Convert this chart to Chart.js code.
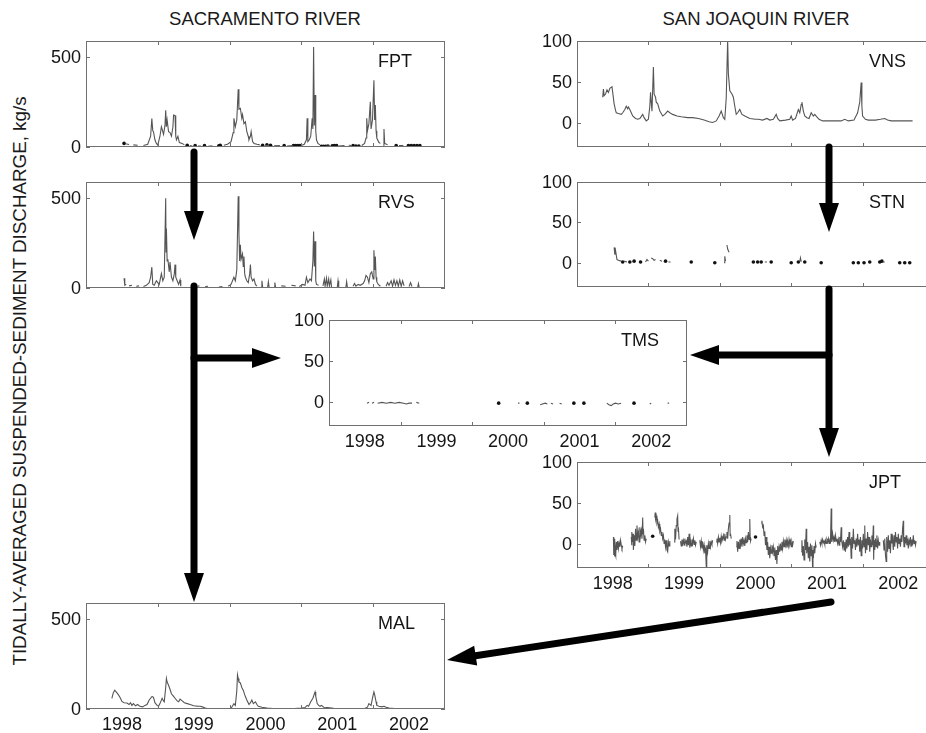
<!DOCTYPE html>
<html>
<head>
<meta charset="utf-8">
<script src="https://cdn.jsdelivr.net/npm/chart.js@4.4.1/dist/chart.umd.min.js"></script>
<style>
  body { margin: 0; background: #fff; width: 926px; height: 733px; overflow: hidden; position: relative;
         font-family: "Liberation Sans", Arial, sans-serif; color: #1a1a1a; }
  canvas.panel { position: absolute; }
  .txt { position: absolute; white-space: nowrap; transform: translate(-50%, -50%); font-size: 18.5px; }
  #ylab { transform: translate(-50%, -50%) rotate(-90deg); font-size: 18.8px; }
  #arrows { position: absolute; left: 0; top: 0; z-index: 10; }
</style>
</head>
<body>
<div class="txt" style="left:265px;top:19px">SACRAMENTO RIVER</div>
<div class="txt" style="left:756px;top:19px">SAN JOAQUIN RIVER</div>
<div class="txt" id="ylab" style="left:20px;top:381px">TIDALLY-AVERAGED SUSPENDED-SEDIMENT DISCHARGE, kg/s</div>
<svg id="arrows" width="926" height="733"></svg>
<script>
// ---- axis ticks / labels ----
const yearTicks = [1999, 2000, 2001, 2002];
const yearLabels = ['1998', '1999', '2000', '2001', '2002'];
const yearLabelPos = [1998.5, 1999.5, 2000.5, 2001.5, 2002.5];
const sacTicks = [0, 500];
const sjTicks = [0, 50, 100];

// ---- Sacramento River (kg/s), [decimal year, value], null = gap ----
const fptLine = [[1998.55,18],[1998.60,14],[1998.61,null],[1998.66,12],[1998.72,10],[1998.73,null],[1998.80,8],[1998.86,15],
  [1998.90,60],[1998.917,159],[1998.93,90],[1998.94,85],[1998.96,40],[1998.98,20],[1999.00,11],[1999.03,60],[1999.05,113],
  [1999.06,100],[1999.08,70],[1999.10,120],[1999.11,205],[1999.12,113],[1999.13,150],[1999.15,85],[1999.17,80],[1999.19,60],
  [1999.21,110],[1999.22,178],[1999.24,175],[1999.25,60],[1999.26,40],[1999.28,60],[1999.30,25],[1999.34,20],[1999.37,12],
  [1999.38,null],[1999.45,8],[1999.48,6],[1999.49,null],[1999.56,5],[1999.60,5],[1999.61,null],[1999.70,4],[1999.76,6],
  [1999.77,null],[1999.92,10],[1999.97,15],[2000.02,30],[2000.05,80],[2000.06,160],[2000.08,113],[2000.10,150],[2000.12,321],
  [2000.13,210],[2000.15,215],[2000.17,160],[2000.18,180],[2000.20,130],[2000.22,140],[2000.24,85],[2000.26,60],[2000.27,40],
  [2000.29,60],[2000.30,85],[2000.32,30],[2000.34,20],[2000.38,15],[2000.42,12],[2000.43,null],[2000.50,8],[2000.55,8],
  [2000.56,null],[2000.62,6],[2000.70,8],[2000.71,null],[2000.80,5],[2000.88,8],[2000.89,null],[2001.00,8],[2001.04,15],
  [2001.07,40],[2001.08,160],[2001.09,30],[2001.11,40],[2001.13,60],[2001.15,160],[2001.16,100],[2001.17,557],[2001.18,120],
  [2001.19,289],[2001.20,90],[2001.21,40],[2001.23,20],[2001.26,12],[2001.27,null],[2001.35,5],[2001.40,5],[2001.41,null],
  [2001.52,5],[2001.60,8],[2001.61,null],[2001.66,10],[2001.70,8],[2001.71,null],[2001.84,8],[2001.88,20],[2001.90,50],
  [2001.91,160],[2001.92,90],[2001.94,130],[2001.96,252],[2001.97,100],[2001.99,150],[2002.01,372],[2002.02,150],[2002.03,233],
  [2002.04,90],[2002.05,50],[2002.08,25],[2002.10,20],[2002.11,null],[2002.14,10],[2002.15,100],[2002.16,20],[2002.20,12],
  [2002.21,null],[2002.36,8],[2002.42,8],[2002.43,null]];
const fptDots = [[1998.53,20],[1999.41,10],[1999.52,8],[1999.65,8],[1999.85,6],[1999.87,10],[2000.46,10],[2000.52,12],
  [2000.57,10],[2000.76,8],[2000.89,8],[2000.92,8],[2000.95,8],[2000.98,8],[2001.28,4],[2001.31,4],[2001.34,4],[2001.37,5],
  [2001.43,6],[2001.46,8],[2001.49,8],[2001.72,8],[2001.76,5],[2001.80,5],[2002.32,8],[2002.49,8],[2002.53,8],[2002.57,8],
  [2002.61,8],[2002.65,8]];

const rvsLine = [[1998.53,54],[1998.54,15],[1998.56,20],[1998.57,null],[1998.60,12],[1998.64,15],[1998.65,null],[1998.70,10],
  [1998.74,12],[1998.75,null],[1998.80,8],[1998.84,15],[1998.88,30],[1998.90,60],[1998.917,116],[1998.93,20],[1998.95,15],
  [1998.98,40],[1999.02,20],[1999.05,80],[1999.07,40],[1999.09,60],[1999.11,500],[1999.115,200],[1999.12,331],[1999.13,150],
  [1999.14,160],[1999.16,90],[1999.17,145],[1999.19,60],[1999.21,40],[1999.23,80],[1999.24,130],[1999.25,60],[1999.27,40],
  [1999.29,20],[1999.31,45],[1999.32,10],[1999.33,null],[1999.55,10],[1999.58,12],[1999.59,null],[1999.66,8],[1999.70,10],
  [1999.71,null],[1999.85,5],[1999.90,8],[1999.91,null],[1999.98,10],[2000.02,20],[2000.06,60],[2000.08,40],[2000.10,100],
  [2000.12,510],[2000.13,300],[2000.14,150],[2000.15,240],[2000.16,160],[2000.18,190],[2000.19,120],[2000.20,175],[2000.21,80],
  [2000.22,60],[2000.24,40],[2000.26,30],[2000.28,80],[2000.29,130],[2000.30,60],[2000.32,40],[2000.34,50],[2000.36,20],
  [2000.38,10],[2000.39,null],[2000.44,5],[2000.45,40],[2000.46,5],[2000.47,null],[2000.53,5],[2000.54,35],[2000.55,5],
  [2000.56,null],[2000.62,5],[2000.63,30],[2000.64,5],[2000.65,null],[2000.72,12],[2000.78,10],[2000.79,null],[2000.86,15],
  [2000.92,12],[2000.93,null],[2000.97,8],[2001.02,20],[2001.05,15],[2001.07,60],[2001.09,30],[2001.12,50],[2001.14,40],
  [2001.16,150],[2001.17,315],[2001.18,120],[2001.19,260],[2001.20,40],[2001.21,20],[2001.24,15],[2001.25,null],[2001.30,12],
  [2001.32,50],[2001.33,10],[2001.35,55],[2001.36,10],[2001.38,50],[2001.39,10],[2001.41,45],[2001.42,5],[2001.43,null],
  [2001.50,5],[2001.51,40],[2001.52,5],[2001.53,null],[2001.62,5],[2001.63,35],[2001.64,5],[2001.65,null],[2001.72,10],
  [2001.74,25],[2001.76,10],[2001.79,20],[2001.82,15],[2001.86,25],[2001.88,40],[2001.90,70],[2001.92,60],[2001.94,30],
  [2001.96,80],[2001.98,90],[2002.00,50],[2002.01,210],[2002.02,100],[2002.03,175],[2002.04,60],[2002.05,35],[2002.07,20],
  [2002.10,10],[2002.11,null],[2002.18,10],[2002.20,30],[2002.22,15],[2002.25,40],[2002.27,10],[2002.29,45],[2002.31,15],
  [2002.33,40],[2002.35,10],[2002.37,45],[2002.39,10],[2002.41,40],[2002.43,12],[2002.44,null],[2002.50,8],[2002.52,30],
  [2002.54,8],[2002.55,null],[2002.62,5],[2002.63,25],[2002.64,5]];

const malLine = [[1998.36,59],[1998.38,90],[1998.40,105],[1998.42,95],[1998.45,80],[1998.48,60],[1998.50,42],[1998.53,35],
  [1998.57,33],[1998.60,25],[1998.62,35],[1998.64,20],[1998.66,30],[1998.69,18],[1998.72,25],[1998.75,15],[1998.79,12],
  [1998.82,20],[1998.85,25],[1998.88,50],[1998.92,70],[1998.94,65],[1998.96,35],[1998.99,20],[1999.01,15],[1999.03,30],
  [1999.06,60],[1999.08,45],[1999.09,40],[1999.11,120],[1999.12,170],[1999.13,150],[1999.15,132],[1999.17,110],[1999.19,85],
  [1999.22,70],[1999.24,60],[1999.27,45],[1999.29,40],[1999.31,55],[1999.34,45],[1999.37,35],[1999.41,30],[1999.45,25],
  [1999.50,18],[1999.55,16],[1999.59,15],[1999.62,12],[1999.66,5],[1999.69,3],[1999.80,3],[1999.90,3],[2000.01,3],[2000.03,10],
  [2000.06,30],[2000.08,20],[2000.10,100],[2000.11,190],[2000.12,170],[2000.13,150],[2000.15,145],[2000.17,120],[2000.19,105],
  [2000.21,80],[2000.22,70],[2000.24,50],[2000.27,25],[2000.29,35],[2000.31,50],[2000.33,30],[2000.36,40],[2000.38,25],
  [2000.40,15],[2000.45,10],[2000.52,5],[2000.60,3],[2000.75,2],[2000.90,2],[2001.00,5],[2001.05,8],[2001.08,20],[2001.10,15],
  [2001.13,40],[2001.16,60],[2001.19,95],[2001.20,70],[2001.22,30],[2001.24,20],[2001.26,15],[2001.28,20],[2001.31,10],
  [2001.36,8],[2001.45,4],[2001.60,3],[2001.75,2],[2001.88,3],[2001.92,10],[2001.94,30],[2001.97,20],[2001.99,60],[2002.01,95],
  [2002.02,80],[2002.04,40],[2002.05,20],[2002.08,15],[2002.12,12],[2002.15,15],[2002.18,10],[2002.22,5],[2002.30,3],
  [2002.45,2],[2002.60,2],[2002.73,2]];

// ---- San Joaquin River (kg/s) ----
const vnsLine = [[1998.36,31],[1998.37,41],[1998.38,33],[1998.40,35],[1998.42,40],[1998.44,37],[1998.46,42],[1998.49,44],
  [1998.51,30],[1998.52,23],[1998.54,15],[1998.55,12],[1998.58,11],[1998.62,10],[1998.64,12],[1998.67,16],[1998.69,20],
  [1998.71,17],[1998.72,19],[1998.74,16],[1998.76,12],[1998.78,8],[1998.82,5],[1998.85,4],[1998.88,5],[1998.92,10],[1998.94,6],
  [1998.97,2],[1999.00,4],[1999.02,20],[1999.03,37],[1999.04,25],[1999.05,14],[1999.06,40],[1999.07,68],[1999.08,35],
  [1999.10,31],[1999.11,25],[1999.13,23],[1999.16,14],[1999.20,8],[1999.23,10],[1999.27,14],[1999.30,12],[1999.34,10],
  [1999.40,8],[1999.46,7],[1999.55,6],[1999.62,6],[1999.70,5],[1999.78,3],[1999.85,1],[1999.90,0],[1999.95,2],[1999.99,8],
  [2000.02,14],[2000.05,6],[2000.07,4],[2000.09,30],[2000.11,101],[2000.12,60],[2000.14,39],[2000.17,35],[2000.19,31],
  [2000.21,20],[2000.23,10],[2000.25,12],[2000.28,16],[2000.31,10],[2000.35,8],[2000.42,5],[2000.50,4],[2000.54,4],[2000.60,3],
  [2000.66,5],[2000.70,3],[2000.75,4],[2000.79,10],[2000.81,5],[2000.84,2],[2000.92,3],[2000.98,4],[2001.00,8],[2001.02,3],
  [2001.06,5],[2001.10,16],[2001.12,12],[2001.14,22],[2001.15,25],[2001.17,14],[2001.19,8],[2001.22,6],[2001.25,5],[2001.28,12],
  [2001.31,8],[2001.33,10],[2001.35,8],[2001.39,4],[2001.44,2],[2001.50,2],[2001.60,2],[2001.70,2],[2001.75,4],[2001.80,2],
  [2001.88,3],[2001.93,12],[2001.96,25],[2001.98,49],[2001.99,20],[2002.00,8],[2002.04,4],[2002.08,3],[2002.12,3],[2002.18,3],
  [2002.25,4],[2002.31,5],[2002.35,3],[2002.40,2],[2002.48,2],[2002.55,2],[2002.62,2],[2002.70,2]];

const stnLine = [[1998.52,19],[1998.53,10],[1998.54,15],[1998.56,4],[1998.58,3],[1998.62,2],[1998.63,null],[1998.66,2],
  [1998.70,1],[1998.71,null],[1998.76,1],[1998.78,null],[1998.82,3],[1998.83,null],[1998.96,1],[1998.98,4],[1999.00,2],
  [1999.01,null],[1999.04,6],[1999.06,5],[1999.08,3],[1999.10,4],[1999.11,null],[1999.16,3],[1999.19,2],[1999.20,null],
  [1999.28,1],[1999.31,1],[1999.32,null],[1999.45,1],[1999.47,null],[2000.06,0],[2000.07,8],[2000.08,2],[2000.09,null],
  [2000.10,22],[2000.11,17],[2000.13,13],[2000.14,null],[2000.25,1],[2000.27,null],[2000.63,1],[2000.66,1],[2000.67,null],
  [2000.78,1],[2000.80,null],[2001.12,2],[2001.13,6],[2001.14,1],[2001.15,null],[2002.28,1],[2002.31,1]];
const stnDots = [[1998.64,1],[1998.74,1],[1998.80,2],[1998.89,1],[1999.24,2],[1999.60,1],[1999.93,0],[2000.47,1],[2000.53,1],
  [2000.58,1],[2000.72,1],[2001.00,0],[2001.10,1],[2001.19,1],[2001.42,0],[2001.87,0],[2001.94,0],[2002.02,0],[2002.10,1],
  [2002.24,1],[2002.27,2],[2002.52,0],[2002.59,0],[2002.66,0]];

const tmsLine = [[1998.53,-2],[1998.56,-1],[1998.57,null],[1998.60,-2],[1998.63,-1],[1998.64,null],[1998.68,-2],[1998.74,-1],
  [1998.80,-2],[1998.86,-1],[1998.92,-2],[1998.98,-1],[1999.04,-2],[1999.08,-3],[1999.12,-2],[1999.16,-2],[1999.17,null],
  [1999.22,-1],[1999.26,-2],[1999.27,null],[1999.36,-2],[1999.37,null],[1999.46,-3],[1999.47,null],[2000.46,-3],[2000.47,null],
  [2000.55,-2],[2000.56,null],[2000.64,-2],[2000.66,-2],[2000.67,null],[2000.84,-2],[2000.87,null],[2000.95,-4],[2000.98,-3],
  [2001.02,-2],[2001.05,-3],[2001.06,null],[2001.10,-2],[2001.13,-3],[2001.14,null],[2001.22,-2],[2001.25,-3],[2001.26,null],
  [2001.48,-2],[2001.49,null],[2001.60,-2],[2001.62,null],[2001.68,-3],[2001.69,null],[2001.88,-2],[2001.91,-4],[2001.94,-5],
  [2001.97,-3],[2002.00,-2],[2002.04,-3],[2002.08,-2],[2002.09,null],[2002.15,-2],[2002.17,null],[2002.38,-2],[2002.40,null],
  [2002.48,-3],[2002.50,-2],[2002.51,null],[2002.58,-2],[2002.60,null],[2002.73,-2],[2002.75,-2]];
const tmsDots = [[2000.37,-2],[2000.77,-2],[2001.42,-2],[2001.56,-2],[2002.26,-2]];

const jptLine = [[1998.51,8],[1998.515,-14],[1998.52,4],[1998.525,-16],[1998.53,6],[1998.535,-12],[1998.54,-2],[1998.545,-15],
  [1998.55,2],[1998.56,-8],[1998.57,3],[1998.58,-6],[1998.59,1],[1998.60,-4],[1998.61,4],[1998.62,-2],[1998.63,-6],[1998.64,-3],
  [1998.65,null],[1998.76,8],[1998.765,-2],[1998.77,14],[1998.78,2],[1998.785,12],[1998.79,-8],[1998.80,10],[1998.81,-3],
  [1998.82,18],[1998.83,4],[1998.84,22],[1998.85,8],[1998.86,14],[1998.87,2],[1998.88,20],[1998.89,10],[1998.90,16],[1998.91,6],
  [1998.92,32],[1998.925,12],[1998.93,18],[1998.94,4],[1998.95,10],[1998.96,2],[1998.97,6],[1998.98,null],[1999.09,32],
  [1999.095,38],[1999.10,30],[1999.11,34],[1999.12,25],[1999.13,28],[1999.14,20],[1999.15,24],[1999.16,15],[1999.17,18],
  [1999.18,10],[1999.19,14],[1999.20,6],[1999.21,10],[1999.22,0],[1999.23,5],[1999.24,-4],[1999.25,4],[1999.26,-8],[1999.27,-10],
  [1999.28,2],[1999.29,-3],[1999.30,3],[1999.31,null],[1999.36,2],[1999.37,18],[1999.38,5],[1999.39,22],[1999.40,30],
  [1999.41,34],[1999.415,15],[1999.42,20],[1999.43,5],[1999.44,null],[1999.45,3],[1999.46,-3],[1999.47,5],[1999.48,0],
  [1999.49,4],[1999.50,-2],[1999.51,6],[1999.52,1],[1999.53,3],[1999.54,-4],[1999.55,8],[1999.56,-2],[1999.57,12],[1999.58,-5],
  [1999.59,3],[1999.60,-3],[1999.61,5],[1999.62,0],[1999.63,6],[1999.64,-1],[1999.65,4],[1999.66,-2],[1999.67,2],[1999.68,null],
  [1999.72,4],[1999.73,-4],[1999.74,3],[1999.75,-6],[1999.76,2],[1999.77,-8],[1999.78,-2],[1999.79,-12],[1999.80,-5],
  [1999.81,-28],[1999.815,-6],[1999.82,-2],[1999.83,-10],[1999.84,0],[1999.85,-6],[1999.86,3],[1999.87,-4],[1999.88,2],
  [1999.89,-1],[1999.90,4],[1999.91,null],[1999.95,2],[1999.96,6],[1999.97,0],[1999.98,8],[1999.99,2],[2000.00,7],[2000.01,1],
  [2000.02,9],[2000.03,3],[2000.04,6],[2000.05,10],[2000.06,4],[2000.07,12],[2000.08,5],[2000.09,8],[2000.10,14],[2000.11,6],
  [2000.12,18],[2000.13,25],[2000.14,35],[2000.145,10],[2000.15,12],[2000.16,6],[2000.17,null],[2000.23,-4],[2000.24,3],
  [2000.25,-10],[2000.26,2],[2000.27,-6],[2000.28,5],[2000.29,-2],[2000.30,6],[2000.31,-4],[2000.32,8],[2000.33,0],[2000.34,4],
  [2000.35,-3],[2000.36,6],[2000.37,1],[2000.38,10],[2000.39,2],[2000.40,14],[2000.41,5],[2000.42,30],[2000.425,8],[2000.43,3],
  [2000.44,6],[2000.45,null],[2000.585,24],[2000.59,28],[2000.60,20],[2000.61,22],[2000.62,10],[2000.63,15],[2000.64,-2],
  [2000.65,8],[2000.66,-8],[2000.67,2],[2000.68,-14],[2000.69,-4],[2000.70,-18],[2000.71,-6],[2000.72,-12],[2000.73,-2],
  [2000.74,-10],[2000.75,-4],[2000.76,-15],[2000.77,-5],[2000.78,-20],[2000.79,-8],[2000.80,-25],[2000.805,-10],[2000.81,-3],
  [2000.82,-14],[2000.83,-4],[2000.84,-10],[2000.85,0],[2000.86,-8],[2000.87,2],[2000.88,-6],[2000.89,3],[2000.90,-4],
  [2000.91,5],[2000.92,-2],[2000.93,4],[2000.94,-5],[2000.95,3],[2000.96,-3],[2000.97,5],[2000.98,-1],[2000.99,3],[2001.00,-4],
  [2001.01,2],[2001.02,-2],[2001.03,3],[2001.04,null],[2001.14,-10],[2001.15,4],[2001.16,-15],[2001.17,-3],[2001.18,-20],
  [2001.19,5],[2001.20,-8],[2001.21,18],[2001.215,-5],[2001.22,-12],[2001.23,2],[2001.24,-18],[2001.25,-4],[2001.26,-22],
  [2001.27,0],[2001.28,-15],[2001.29,-2],[2001.30,-30],[2001.305,-8],[2001.31,-18],[2001.32,-3],[2001.33,-12],[2001.34,0],
  [2001.35,-5],[2001.36,null],[2001.40,2],[2001.41,-2],[2001.42,4],[2001.43,0],[2001.44,5],[2001.45,1],[2001.46,3],[2001.47,-1],
  [2001.48,4],[2001.49,0],[2001.50,5],[2001.51,2],[2001.52,6],[2001.53,0],[2001.54,4],[2001.55,2],[2001.56,43],[2001.565,8],
  [2001.57,2],[2001.58,12],[2001.59,4],[2001.60,8],[2001.61,2],[2001.62,10],[2001.63,3],[2001.64,6],[2001.65,0],[2001.66,5],
  [2001.67,-2],[2001.68,8],[2001.69,2],[2001.70,20],[2001.705,5],[2001.71,3],[2001.72,-4],[2001.73,4],[2001.74,-8],[2001.75,2],
  [2001.76,-10],[2001.77,5],[2001.78,-6],[2001.79,8],[2001.80,-4],[2001.81,14],[2001.82,-2],[2001.83,6],[2001.84,-18],
  [2001.845,-4],[2001.85,8],[2001.86,-6],[2001.87,18],[2001.88,0],[2001.89,4],[2001.90,-8],[2001.91,6],[2001.92,-4],[2001.93,12],
  [2001.94,-2],[2001.95,5],[2001.96,-10],[2001.97,8],[2001.98,-15],[2001.99,4],[2002.00,-6],[2002.01,12],[2002.02,-4],
  [2002.03,22],[2002.035,2],[2002.04,-12],[2002.05,6],[2002.06,-8],[2002.07,14],[2002.08,-2],[2002.09,8],[2002.10,-10],
  [2002.11,5],[2002.12,-4],[2002.13,10],[2002.14,-2],[2002.15,22],[2002.155,-20],[2002.16,4],[2002.17,-8],[2002.18,6],
  [2002.19,-4],[2002.20,10],[2002.21,-6],[2002.22,4],[2002.23,-2],[2002.24,2],[2002.25,null],[2002.29,4],[2002.30,-8],
  [2002.31,6],[2002.32,-14],[2002.33,-22],[2002.335,-4],[2002.34,8],[2002.35,-10],[2002.36,10],[2002.37,-6],[2002.38,4],
  [2002.39,-12],[2002.40,12],[2002.41,0],[2002.42,6],[2002.43,-8],[2002.44,10],[2002.45,-4],[2002.46,14],[2002.47,2],
  [2002.48,8],[2002.49,-6],[2002.50,12],[2002.51,0],[2002.52,6],[2002.53,-4],[2002.54,10],[2002.55,2],[2002.56,18],[2002.57,28],
  [2002.575,4],[2002.58,-4],[2002.59,8],[2002.60,0],[2002.61,10],[2002.62,-2],[2002.63,6],[2002.64,-6],[2002.65,4],[2002.66,0],
  [2002.67,8],[2002.68,-3],[2002.69,5],[2002.70,-2],[2002.71,10],[2002.72,0],[2002.73,4],[2002.74,-2],[2002.75,3]];
const jptDots = [[1999.06,9],[2000.50,8]];

// draws the matlab style box, inward ticks, tick labels and station name
const matlabAxes = {
  id: 'matlabAxes',
  afterDatasetsDraw(chart, args, opts) {
    const { ctx, chartArea: a, scales: { x, y } } = chart;
    const seg = (x1, y1, x2, y2) => { ctx.beginPath(); ctx.moveTo(x1, y1); ctx.lineTo(x2, y2); ctx.stroke(); };
    ctx.save();
    ctx.strokeStyle = '#707070';
    ctx.lineWidth = 1;
    ctx.strokeRect(a.left + 0.5, a.top + 0.5, a.width - 1, a.height - 1);
    yearTicks.forEach(t => {
      const px = Math.round(x.getPixelForValue(t)) + 0.5;
      seg(px, a.top, px, a.top + 4);
      seg(px, a.bottom, px, a.bottom - 4);
    });
    opts.yTicks.forEach(v => {
      const py = Math.round(y.getPixelForValue(v)) + 0.5;
      seg(a.left, py, a.left + 4, py);
      seg(a.right, py, a.right - 4, py);
    });
    ctx.fillStyle = '#151515';
    ctx.font = '18px "Liberation Sans", Arial, sans-serif';
    ctx.textAlign = 'right';
    ctx.textBaseline = 'middle';
    opts.yTicks.forEach(v => ctx.fillText(String(v), a.left - 5, y.getPixelForValue(v) + 1));
    if (opts.years) {
      ctx.textAlign = 'center';
      yearLabels.forEach((lab, i) => ctx.fillText(lab, x.getPixelForValue(yearLabelPos[i]), a.bottom + 16));
    }
    ctx.textAlign = 'left';
    ctx.fillText(opts.name, a.left + 292, a.top + 21);
    ctx.restore();
  }
};

const pad = { left: 55, right: 8, top: 12, bottom: 30 };
const toXY = pts => pts.map(([x, y]) => ({ x, y }));

function makePanel(name, box, yMin, yMax, yTicks, line, dots, years) {
  const c = document.createElement('canvas');
  c.className = 'panel';
  c.width = box.w + pad.left + pad.right;
  c.height = box.h + pad.top + pad.bottom;
  c.style.left = (box.x - pad.left) + 'px';
  c.style.top = (box.y - pad.top) + 'px';
  document.body.insertBefore(c, document.getElementById('arrows'));
  const datasets = [{
    data: toXY(line), borderColor: '#555', borderWidth: 1.1, pointRadius: 0, spanGaps: false, tension: 0
  }];
  if (dots) datasets.push({
    data: toXY(dots), showLine: false, pointRadius: 1.8, pointBackgroundColor: '#111', pointBorderWidth: 0
  });
  new Chart(c, {
    type: 'line',
    data: { datasets },
    options: {
      responsive: false,
      animation: false,
      devicePixelRatio: 1,
      layout: { padding: pad },
      scales: {
        x: { type: 'linear', min: 1998, max: 2003, display: false },
        y: { min: yMin, max: yMax, display: false }
      },
      plugins: {
        legend: { display: false },
        tooltip: { enabled: false },
        matlabAxes: { name, yTicks, years }
      }
    },
    plugins: [matlabAxes]
  });
}

makePanel('FPT', { x: 86, y: 41, w: 359, h: 106 }, 0, 590, sacTicks, fptLine, fptDots, false);
makePanel('RVS', { x: 86, y: 182, w: 359, h: 106 }, 0, 590, sacTicks, rvsLine, null, false);
makePanel('MAL', { x: 86, y: 603, w: 359, h: 106 }, 0, 590, sacTicks, malLine, null, true);
makePanel('VNS', { x: 577, y: 41, w: 357, h: 106 }, -30, 100, sjTicks, vnsLine, null, false);
makePanel('STN', { x: 577, y: 182, w: 357, h: 105 }, -30, 100, sjTicks, stnLine, stnDots, false);
makePanel('TMS', { x: 329, y: 320, w: 358, h: 106 }, -30, 100, sjTicks, tmsLine, tmsDots, true);
makePanel('JPT', { x: 577, y: 462, w: 357, h: 106 }, -30, 100, sjTicks, jptLine, jptDots, true);

// flow arrows between stations
const svg = document.getElementById('arrows');
const NS = 'http://www.w3.org/2000/svg';
function arrow(x1, y1, x2, y2) {
  const dx = x2 - x1, dy = y2 - y1, len = Math.hypot(dx, dy);
  const ux = dx / len, uy = dy / len, hl = 29, hw = 10;
  const bx = x2 - ux * hl, by = y2 - uy * hl;
  const l = document.createElementNS(NS, 'line');
  l.setAttribute('x1', x1); l.setAttribute('y1', y1);
  l.setAttribute('x2', bx + ux * 2); l.setAttribute('y2', by + uy * 2);
  l.setAttribute('stroke', '#000'); l.setAttribute('stroke-width', 7); l.setAttribute('stroke-linecap', 'round');
  svg.appendChild(l);
  const p = document.createElementNS(NS, 'polygon');
  p.setAttribute('points', `${x2},${y2} ${bx - uy * hw},${by + ux * hw} ${bx + uy * hw},${by - ux * hw}`);
  p.setAttribute('fill', '#000');
  svg.appendChild(p);
}
arrow(194, 152, 194, 240);
arrow(194, 286, 194, 602);
arrow(194, 358, 281, 358);
arrow(829, 147, 829, 232);
arrow(829, 289, 829, 457);
arrow(829, 355, 690, 355);
arrow(831, 602, 447, 660);
</script>
</body>
</html>
